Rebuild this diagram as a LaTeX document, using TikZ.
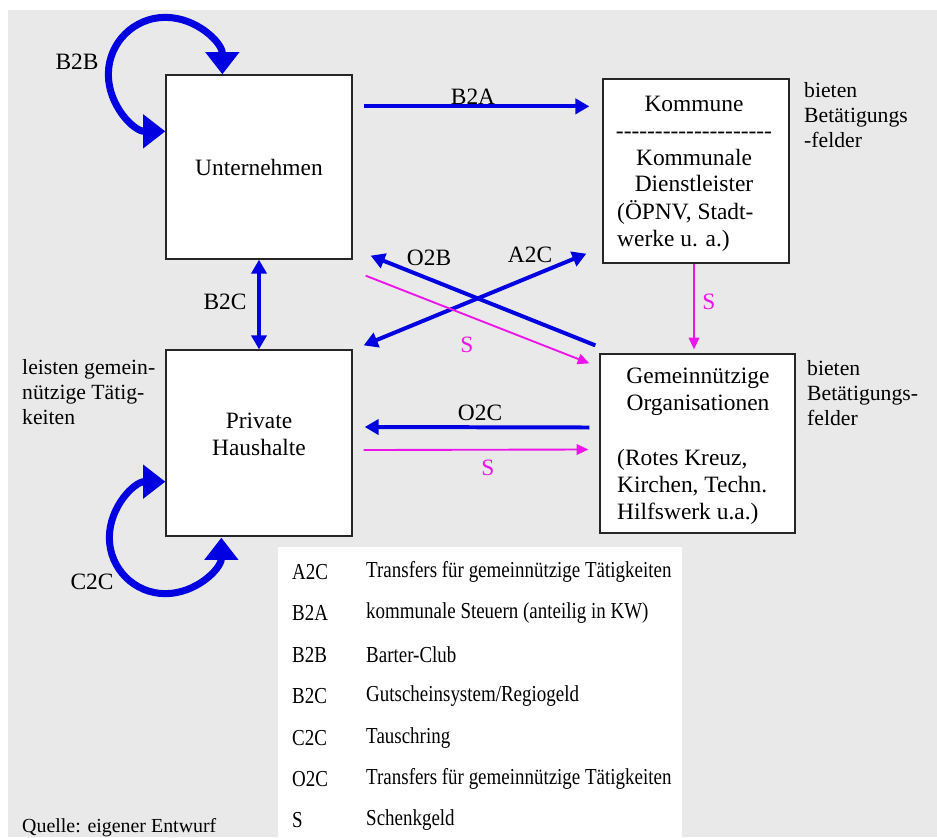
\documentclass[tikz,border=0pt]{standalone}
\usepackage{fontspec}
\setmainfont{Liberation Serif}
\newfontfamily\keyface{Liberation Serif}[FakeStretch=0.83]
\usetikzlibrary{calc, positioning, arrows.meta}
\definecolor{flowblue}{RGB}{0,0,225}
\definecolor{giftpink}{RGB}{235,20,235}
\definecolor{panelgrey}{RGB}{233,233,233}
\newcommand\boxfont{\fontsize{20}{23}\selectfont}
\newcommand\sidefont{\fontsize{18.5}{21.3}\selectfont}
\newcommand\keyfont{\keyface\fontsize{19.5}{22}\selectfont}
\newcommand\dashrow{\foreach \i in {1,...,20}{\mbox{-}}}
\tikzset{
actor/.style={draw=black!85, fill=white, line width=1.1pt, inner sep=0pt},
flow/.style={draw=flowblue, line width=3.4pt, -{Triangle[length=12pt,width=13pt]}},
flowboth/.style={flow, {Triangle[length=12pt,width=13pt]}-{Triangle[length=12pt,width=13pt]}},
gift/.style={draw=giftpink, line width=1.6pt, -{Triangle[length=10pt,width=9pt]}},
selfloop/.style={draw=flowblue, line width=6pt, {Triangle[length=19pt,width=28pt]}-{Triangle[length=19pt,width=28pt]}},
flowlabel/.style={font=\boxfont, inner sep=0pt},
giftlabel/.style={flowlabel, text=giftpink},
sidenote/.style={font=\sidefont, align=left, anchor=north west, inner sep=0pt},
keyentry/.style={font=\keyfont, anchor=west, inner sep=0pt},
}
\begin{document}
\begin{tikzpicture}[x=0.03cm, y=-0.03cm]
    \useasboundingbox (0,0) rectangle (937,837);
    \fill[panelgrey] (8,10) rectangle (937,837);
    \fill[white] (278,547) rectangle (682,837);
    % the four actors
    \node[actor, minimum width=5.58cm, minimum height=5.52cm, font=\boxfont] (unternehmen) at (259,167) {Unternehmen};
    \node[actor, minimum width=5.58cm, minimum height=5.58cm] (haushalte) at (259,443) {};
    \node[font=\boxfont, align=center, inner sep=0pt] (haushaltename) at (259,434) {Private\\Haushalte};
    \node[actor, minimum width=5.58cm, minimum height=5.52cm] (kommune) at (696,171) {};
    \node[font=\boxfont, align=center, inner sep=0pt] (kommunename) at (694,144) {Kommune\\\dashrow\\Kommunale\\Dienstleister};
    \node[font=\boxfont, align=left, anchor=west, inner sep=0pt] (kommunedetail) at (617,226) {(ÖPNV, Stadt-\\werke u. a.)};
    \node[actor, minimum width=5.85cm, minimum height=5.37cm] (gemein) at (697.5,443.5) {};
    \node[font=\boxfont, align=center, inner sep=0pt] (gemeinname) at (698,392) {Gemeinnützige\\Organisationen};
    \node[font=\boxfont, align=left, anchor=west, inner sep=0pt] (gemeindetail) at (617,487) {(Rotes Kreuz,\\Kirchen, Techn.\\Hilfswerk u.a.)};
    % notes beside the boxes
    \node[sidenote] (kommunenote) at (804,82) {bieten\\Betätigungs\\-felder};
    \node[sidenote] (gemeinnote) at (807,360) {bieten\\Betätigungs-\\felder};
    \node[sidenote] (haushaltenote) at (22,359) {leisten gemein-\\nützige Tätig-\\keiten};
    % flows
    \draw[selfloop] ($(unternehmen.north west)+(0,57)$) arc[start angle=90, end angle=360, radius=57];
    \draw[selfloop] ($(haushalte.south west)+(0,-55)$) arc[start angle=270, end angle=0, radius=56];
    \draw[flow] ($(unternehmen.north east)+(11,32)$) -- ($(kommune.north west)+(-13,28)$);
    \draw[flowboth, line width=2.8pt] (unternehmen.south) -- (haushalte.north);
    \draw[flow] ($(gemein.north west)+(-4,-8)$) -- ($(unternehmen.south east)+(18,-4)$);
    \draw[flowboth] ($(haushalte.north east)+(11,-4)$) -- ($(kommune.south west)+(-16,-10)$);
    \draw[gift] ($(unternehmen.south east)+(13,16)$) -- ($(gemein.north west)+(-10,10)$);
    \draw[gift] ($(kommune.south)+(-2,0)$) -- ($(kommune.south |- gemein.north)+(-2,-4)$);
    \draw[flow] ($(gemein.west)+(-10,-16)$) -- ($(haushalte.east)+(12,-16)$);
    \draw[gift] ($(haushalte.east)+(11,7)$) -- ($(gemein.west)+(-11,6)$);
    \node[flowlabel] (lblbtob) at (77,62) {B2B};
    \node[flowlabel] (lblctoc) at (92,582) {C2C};
    \node[flowlabel] (lblbtoa) at (473,97) {B2A};
    \node[flowlabel] (lblbtoc) at (225,302) {B2C};
    \node[flowlabel] (lblotob) at (429,258) {O2B};
    \node[flowlabel] (lblatoc) at (530,255) {A2C};
    \node[flowlabel] (lblotoc) at (480,413) {O2C};
    \node[giftlabel] (lblgiftdiag) at (467,345) {S};
    \node[giftlabel] (lblgiftdown) at (709,302) {S};
    \node[giftlabel] (lblgiftright) at (488,468) {S};
    % key
    \foreach \abbr/\desc [count=\i from 0] in {A2C/Transfers für gemeinnützige Tätigkeiten, B2A/kommunale Steuern (anteilig in KW), B2B/Barter-Club, B2C/{Gutscheinsystem/Regiogeld}, C2C/Tauschring, O2C/Transfers für gemeinnützige Tätigkeiten, S/Schenkgeld}{
      \node[keyentry] (keyabbr\i) at (292,572+41.4*\i) {\abbr};
      \node[keyentry] (keydesc\i) at (366,572+41.4*\i) {\desc};
    }
    \node[keyentry, font=\fontsize{17}{20}\selectfont] (quelle) at (22,828) {Quelle: eigener Entwurf};
\end{tikzpicture}
\end{document}
